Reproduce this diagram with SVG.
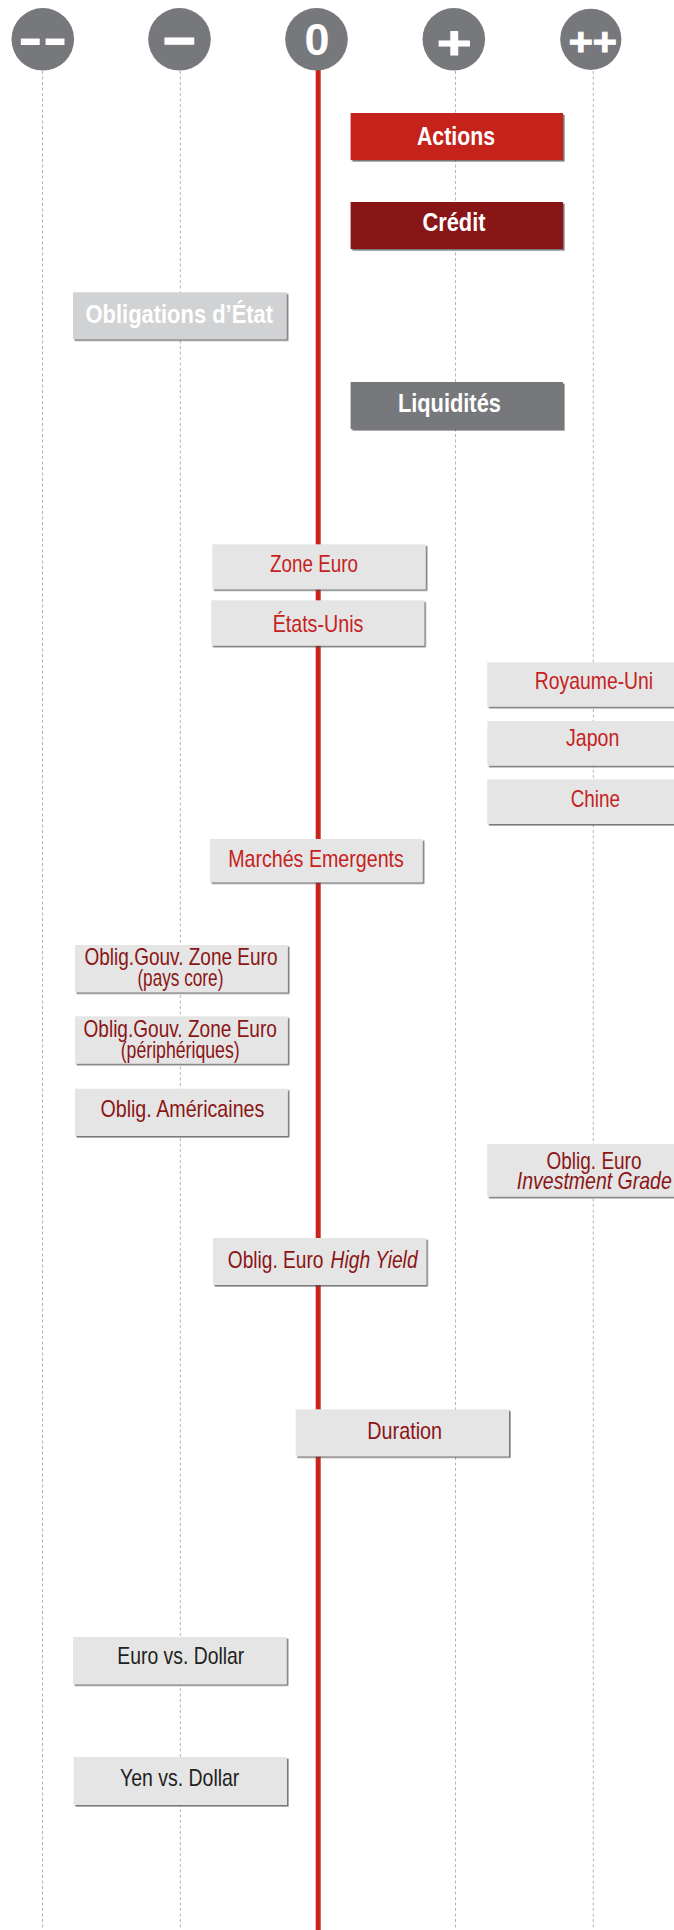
<svg xmlns="http://www.w3.org/2000/svg" width="674" height="1930" viewBox="0 0 674 1930">
<defs>
<filter id="sh" x="-5%" y="-10%" width="115%" height="130%">
<feDropShadow dx="1.6" dy="1.6" stdDeviation="0.7" flood-color="#4d4d4d" flood-opacity="0.75"/>
</filter>
<style>
.grid{stroke:#b5b5b5;stroke-width:1;stroke-dasharray:3 2.5;fill:none}
.axis{stroke:#c8231d;stroke-width:5;fill:none}
.circ{fill:#77787b}
.sym{fill:#ffffff;font-family:"Liberation Sans",Arial,sans-serif;font-weight:bold;text-anchor:middle}
.box{fill:#e5e5e5;filter:url(#sh)}
.lbl{font-family:"Liberation Sans Narrow","Liberation Sans",Arial,sans-serif;font-size:24px;text-anchor:middle}
.bold{font-weight:bold;fill:#ffffff;font-size:26px}
.reg{fill:#c5221d}
.bond{fill:#8b1515}
.cur{fill:#231f20}
.it{font-style:italic}
</style>
</defs>
<rect width="674" height="1930" fill="#ffffff"/>
<g id="connectors">
<line class="grid" x1="42.5" y1="71" x2="42.5" y2="1930"/>
<line class="grid" x1="180.3" y1="71" x2="180.3" y2="1930"/>
<line class="grid" x1="455.5" y1="71" x2="455.5" y2="1930"/>
<line class="grid" x1="593.3" y1="71" x2="593.3" y2="1930"/>
<line class="axis" x1="318.2" y1="68" x2="318.2" y2="1930"/>
</g>
<g id="header-mm">
<circle class="circ" cx="42.8" cy="39.3" r="31.3"/>
<text class="sym" font-size="74" transform="translate(42.7,56.3) scale(1,0.73)">--</text>
</g>
<g id="header-m">
<circle class="circ" cx="179.5" cy="39.3" r="31.3"/>
<text class="sym" font-size="57" stroke="#ffffff" stroke-width="1.5" x="179.4" y="57">–</text>
</g>
<g id="header-0">
<circle class="circ" cx="316.5" cy="39.3" r="31.3"/>
<text class="sym" font-size="45" x="317" y="55">0</text>
</g>
<g id="header-p">
<circle class="circ" cx="453.8" cy="39.3" r="31.3"/>
<text class="sym" font-size="60" stroke="#ffffff" stroke-width="1.2" transform="translate(454.2,58.6) scale(1,0.77)">+</text>
</g>
<g id="header-pp">
<circle class="circ" cx="590.8" cy="39.3" r="30.6"/>
<text class="sym" font-size="42" stroke="#ffffff" stroke-width="0.9" letter-spacing="-0.5" transform="translate(592.5,55) scale(1,0.92)">++</text>
</g>
<g id="actions">
<rect x="350.6" y="113" width="212.4" height="47" fill="#c5221d" filter="url(#sh)"/>
<text class="lbl bold" x="456" y="145" textLength="78" lengthAdjust="spacingAndGlyphs">Actions</text>
</g>
<g id="credit">
<rect x="350.6" y="202" width="212.4" height="47" fill="#881414" filter="url(#sh)"/>
<text class="lbl bold" x="454" y="231" textLength="63" lengthAdjust="spacingAndGlyphs">Crédit</text>
</g>
<g id="obligations-etat">
<rect x="73" y="292.3" width="213.7" height="47" fill="#d1d2d4" filter="url(#sh)"/>
<text class="lbl bold" x="179.3" y="322.5" textLength="187.5" lengthAdjust="spacingAndGlyphs">Obligations d’État</text>
</g>
<g id="liquidites">
<rect x="350.6" y="382" width="212.4" height="47" fill="#77787b" filter="url(#sh)"/>
<text class="lbl bold" x="449.4" y="411.7" textLength="103" lengthAdjust="spacingAndGlyphs">Liquidités</text>
</g>
<g id="zone-euro">
<rect class="box" x="212.3" y="544.3" width="213.4" height="45"/>
<text class="lbl reg" x="314" y="572.3" textLength="88" lengthAdjust="spacingAndGlyphs">Zone Euro</text>
</g>
<g id="etats-unis">
<rect class="box" x="211.3" y="600.3" width="213" height="45.4"/>
<text class="lbl reg" x="318" y="632.3" textLength="90.7" lengthAdjust="spacingAndGlyphs">États-Unis</text>
</g>
<g id="royaume-uni">
<rect class="box" x="487.3" y="662.3" width="190" height="44.4"/>
<text class="lbl reg" x="594" y="689.3" textLength="118.3" lengthAdjust="spacingAndGlyphs">Royaume-Uni</text>
</g>
<g id="japon">
<rect class="box" x="487.3" y="721" width="190" height="44.7"/>
<text class="lbl reg" x="592.7" y="745.7" textLength="53.3" lengthAdjust="spacingAndGlyphs">Japon</text>
</g>
<g id="chine">
<rect class="box" x="487.3" y="779.3" width="190" height="44.7"/>
<text class="lbl reg" x="595.3" y="807.3" textLength="49.3" lengthAdjust="spacingAndGlyphs">Chine</text>
</g>
<g id="marches-emergents">
<rect class="box" x="210" y="839" width="212.7" height="43.3"/>
<text class="lbl reg" x="316" y="866.7" textLength="175.7" lengthAdjust="spacingAndGlyphs">Marchés Emergents</text>
</g>
<g id="ogze-core">
<rect class="box" x="74.9" y="945" width="212.9" height="47.3"/>
<text class="lbl bond" font-size="22" x="181" y="965" textLength="193" lengthAdjust="spacingAndGlyphs">Oblig.Gouv. Zone Euro</text>
<text class="lbl bond" font-size="16.5" x="180.4" y="985.5" textLength="86" lengthAdjust="spacingAndGlyphs">(pays core)</text>
</g>
<g id="ogze-peripheriques">
<rect class="box" x="74.9" y="1016.3" width="212.9" height="47.4"/>
<text class="lbl bond" font-size="22" x="180.2" y="1037.3" textLength="193.4" lengthAdjust="spacingAndGlyphs">Oblig.Gouv. Zone Euro</text>
<text class="lbl bond" font-size="16.5" x="180.2" y="1057.5" textLength="119" lengthAdjust="spacingAndGlyphs">(périphériques)</text>
</g>
<g id="oblig-americaines">
<rect class="box" x="74.9" y="1088.7" width="212.9" height="47.3"/>
<text class="lbl bond" font-size="23" x="182.4" y="1116.7" textLength="164" lengthAdjust="spacingAndGlyphs">Oblig. Américaines</text>
</g>
<g id="oblig-euro-ig">
<rect class="box" x="487.3" y="1144" width="190" height="52.7"/>
<text class="lbl bond" font-size="22" x="594" y="1169.3" textLength="95" lengthAdjust="spacingAndGlyphs">Oblig. Euro</text>
<text class="lbl bond it" font-size="22" x="594.3" y="1189.3" textLength="155" lengthAdjust="spacingAndGlyphs">Investment Grade</text>
</g>
<g id="oblig-euro-hy">
<rect class="box" x="213" y="1238" width="213.3" height="47"/>
<text class="lbl bond" font-size="23" x="227.8" y="1268.3" style="text-anchor:start" textLength="95.7" lengthAdjust="spacingAndGlyphs">Oblig. Euro</text>
<text class="lbl bond it" font-size="23" x="330.6" y="1268.3" style="text-anchor:start" textLength="87" lengthAdjust="spacingAndGlyphs">High Yield</text>
</g>
<g id="duration">
<rect class="box" x="295.7" y="1409.3" width="213.3" height="47"/>
<text class="lbl bond" x="404.7" y="1439.3" textLength="74.7" lengthAdjust="spacingAndGlyphs">Duration</text>
</g>
<g id="euro-dollar">
<rect class="box" x="73" y="1637" width="213.7" height="47.3"/>
<text class="lbl cur" x="180.8" y="1664" textLength="127" lengthAdjust="spacingAndGlyphs">Euro vs. Dollar</text>
</g>
<g id="yen-dollar">
<rect class="box" x="73.7" y="1757" width="213.3" height="48"/>
<text class="lbl cur" x="179.7" y="1786" textLength="119.3" lengthAdjust="spacingAndGlyphs">Yen vs. Dollar</text>
</g>
</svg>
